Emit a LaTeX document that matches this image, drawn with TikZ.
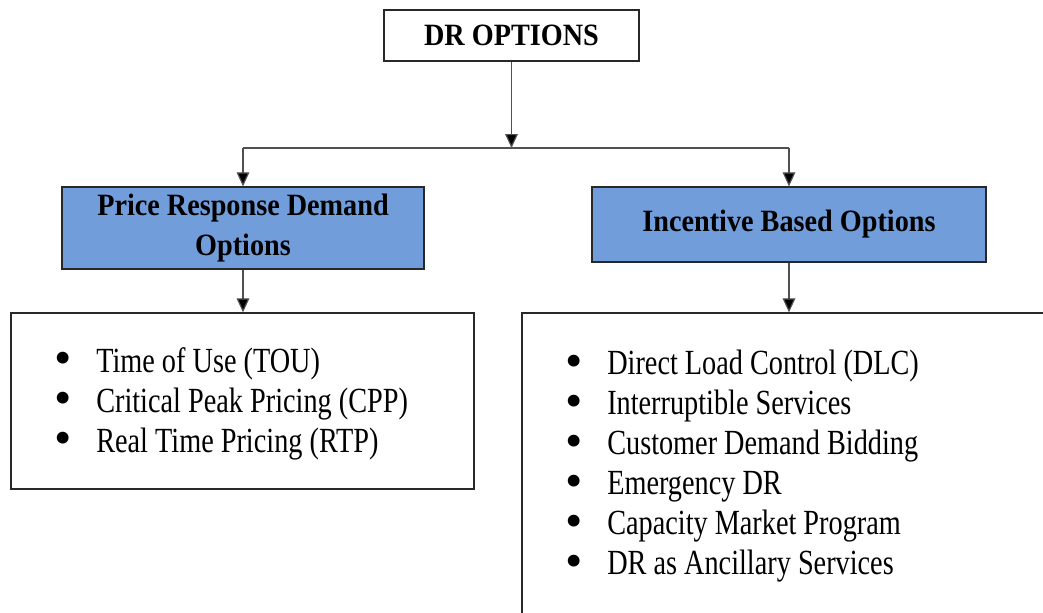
\documentclass[tikz,border=0pt]{standalone}
\usepackage{fontspec}
\usepackage{graphicx}
\setmainfont[FakeStretch=0.91]{Liberation Serif}
\newfontfamily\listfont[FakeStretch=0.80]{Liberation Serif}
\newfontfamily\bulfont{Liberation Serif}
\usetikzlibrary{arrows.meta}
\definecolor{boxblue}{RGB}{113,158,219}
\definecolor{edgegray}{RGB}{40,40,40}
\definecolor{linegray}{RGB}{80,80,80}
\newcommand\mybul{\makebox[31.5pt][l]{\smash{\raisebox{-0.08em}{\scalebox{1.4}{\bulfont\textbullet}}}}}
\tikzset{
  plainbox/.style={draw=edgegray, line width=1pt, fill=white, inner sep=0pt},
  bluebox/.style={draw=edgegray, line width=1pt, fill=boxblue, inner sep=0pt,
    align=center, font=\fontsize{23.25}{30}\selectfont\bfseries},
  conn/.style={draw=linegray, line width=0.9pt},
  arr/.style={conn, -{Triangle[length=10.5pt,width=9.5pt,fill=black]}},
  listtext/.style={inner sep=0pt, anchor=base west, font=\fontsize{26.5}{30}\selectfont}
}
\begin{document}
\begin{tikzpicture}[x=0.75pt,y=-0.75pt]
\useasboundingbox (0,0) rectangle (1043,612);
\clip (0,0) rectangle (1043,612);
% top node
\node[plainbox, minimum width=255*0.75pt, minimum height=51*0.75pt,
  font=\fontsize{23.25}{30}\selectfont\bfseries] (top) at (511.5,35.5) {DR OPTIONS};
% blue boxes
\node[bluebox, minimum width=362*0.75pt, minimum height=82*0.75pt] (prd) at (243,228)
  {Price Response Demand\\Options};
\node[bluebox, minimum width=394*0.75pt, minimum height=75*0.75pt] (ibo) at (789,224.5)
  {Incentive Based Options};
% list boxes
\node[plainbox, minimum width=463*0.75pt, minimum height=176*0.75pt] (llist) at (242.5,401) {};
\node[plainbox, minimum width=578*0.75pt, minimum height=337*0.75pt] (rlist) at (811,481.5) {};
% list texts
\node[listtext] (ltext) at (54,372) {\begin{tabular}[t]{@{}l@{}l@{}}
\mybul & \listfont Time of Use (TOU)\\
\mybul & \listfont Critical Peak Pricing (CPP)\\
\mybul & \listfont Real Time Pricing (RTP)
\end{tabular}};
\node[listtext] (rtext) at (565,374.5) {\begin{tabular}[t]{@{}l@{}l@{}}
\mybul & \listfont Direct Load Control (DLC)\\
\mybul & \listfont Interruptible Services\\
\mybul & \listfont Customer Demand Bidding\\
\mybul & \listfont Emergency DR\\
\mybul & \listfont Capacity Market Program\\
\mybul & \listfont DR as Ancillary Services
\end{tabular}};
% connectors
\coordinate (jt) at (511.5,148);
\coordinate (jl) at (243,148);
\coordinate (jr) at (789,148);
\draw[arr] (top.south) -- (jt);
\draw[conn] (jl) -- (jr);
\draw[arr] (jl) -- (prd.north);
\draw[arr] (jr) -- (ibo.north);
\draw[arr] (prd.south) -- (prd.south |- llist.north);
\draw[arr] (ibo.south) -- (ibo.south |- rlist.north);
\end{tikzpicture}
\end{document}
